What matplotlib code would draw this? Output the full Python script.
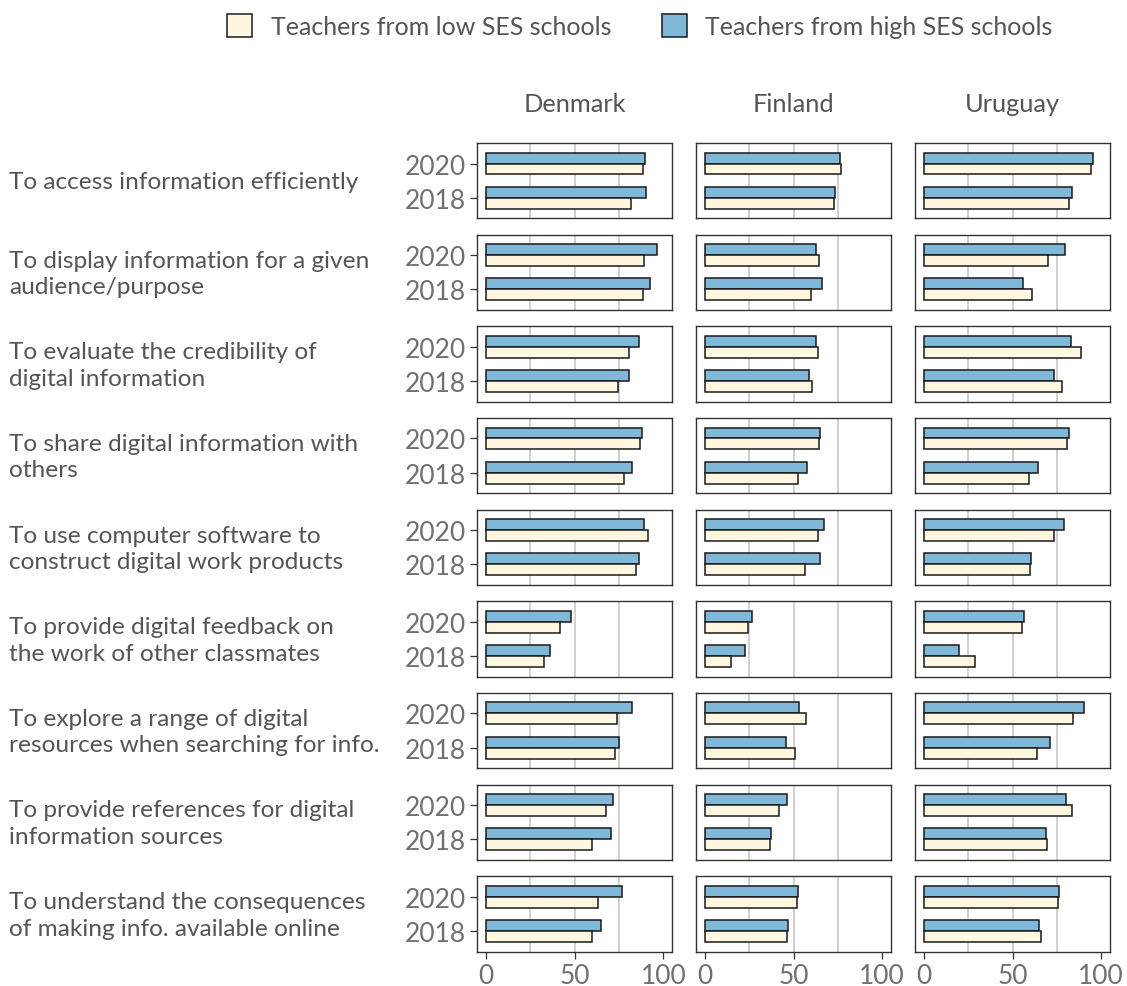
import numpy as np
import matplotlib
matplotlib.use("Agg")
from matplotlib import pyplot as plt
from matplotlib.patches import Patch

plt.rcParams["font.family"] = ["Lato", "DejaVu Sans"]

countries = ["Denmark", "Finland", "Uruguay"]
years = ["2018", "2020"]
skills = [
    "To access information efficiently",
    "To display information for a given\naudience/purpose",
    "To evaluate the credibility of\ndigital information",
    "To share digital information with\nothers",
    "To use computer software to\nconstruct digital work products",
    "To provide digital feedback on\nthe work of other classmates",
    "To explore a range of digital\nresources when searching for info.",
    "To provide references for digital\ninformation sources",
    "To understand the consequences\nof making info. available online",
]

# values per country: rows = skills, cols = (2018, 2020)
high_ses = {
    "Denmark": [[90.4, 89.8], [92.7, 96.6], [80.5, 86.1], [82.5, 88.0], [86.3, 89.1],
                [36.1, 48.1], [75.2, 82.0], [70.7, 71.8], [64.7, 76.9]],
    "Finland": [[73.5, 76.3], [66.0, 62.6], [58.6, 62.6], [57.5, 65.2], [65.2, 67.1],
                [22.6, 26.5], [45.7, 53.2], [37.4, 46.4], [47.0, 52.3]],
    "Uruguay": [[83.5, 95.5], [56.0, 79.7], [73.3, 83.1], [64.3, 82.1], [60.3, 79.3],
                [19.9, 56.6], [71.1, 90.4], [69.0, 80.3], [64.7, 76.1]],
}
low_ses = {
    "Denmark": [[81.6, 88.5], [88.7, 88.9], [74.1, 80.5], [77.6, 87.0], [84.6, 91.4],
                [32.9, 41.9], [72.4, 73.9], [59.6, 67.5], [59.6, 63.3]],
    "Finland": [[72.7, 76.9], [59.8, 64.3], [60.3, 63.7], [52.8, 64.5], [56.4, 64.1],
                [15.0, 24.1], [50.9, 57.0], [37.0, 41.9], [46.2, 52.1]],
    "Uruguay": [[82.1, 94.2], [60.9, 69.9], [78.2, 88.5], [59.2, 80.8], [60.0, 73.3],
                [29.1, 55.3], [64.1, 84.0], [69.7, 83.5], [65.8, 75.8]],
}

LOW_COLOR = "#FFF7E0"
HIGH_COLOR = "#80B8D9"
TEXT_COLOR = "#555555"
TICK_COLOR = "#707070"

W, H = 1127, 987
fig = plt.figure(figsize=(W / 100, H / 100), dpi=100)

# panel grid in pixels
col_x = [477.3, 696.0, 915.0]
panel_w = 195.0
row_top0 = 144.0
row_pitch = 91.65
panel_h = 75.3
bar_h = 0.32

ypos = np.arange(1, len(years) + 1)

for r, skill in enumerate(skills):
    top = row_top0 + r * row_pitch
    for c, country in enumerate(countries):
        ax = fig.add_axes([col_x[c] / W, 1 - (top + panel_h) / H, panel_w / W, panel_h / H])
        hi = high_ses[country][r]
        lo = low_ses[country][r]
        ax.barh(ypos + bar_h / 2, hi, height=bar_h, color=HIGH_COLOR,
                edgecolor="#1a1a1a", linewidth=1.1, zorder=3)
        ax.barh(ypos - bar_h / 2, lo, height=bar_h, color=LOW_COLOR,
                edgecolor="#1a1a1a", linewidth=1.1, zorder=3)
        for g in (25, 50, 75):
            ax.axvline(g, color="#c4c4c4", linewidth=1.1, zorder=1)
        ax.set_xlim(-5, 105)
        ax.set_ylim(0.4, 2.6)
        for s in ax.spines.values():
            s.set_color("#333333")
            s.set_linewidth(1.0)
        ax.set_xticks([0, 50, 100])
        ax.tick_params(axis="both", length=5, width=0.9, color="#333333",
                       labelcolor=TICK_COLOR, labelsize=19, pad=3)
        if r < len(skills) - 1:
            ax.tick_params(axis="x", length=0, labelbottom=False)
        if c == 0:
            ax.set_yticks(ypos)
            ax.set_yticklabels(years)
        else:
            ax.set_yticks([])
        if r == 0:
            fig.text((col_x[c] + panel_w / 2) / W, 1 - 104 / H, country, ha="center",
                     va="center", fontsize=18.3, color=TEXT_COLOR)

    fig.text(9 / W, 1 - (top + panel_h / 2 + 1) / H, skill, ha="left", va="center",
             fontsize=17.6, color=TEXT_COLOR, linespacing=1.32)

handles = [
    Patch(facecolor=LOW_COLOR, edgecolor="#1a1a1a", linewidth=1.1, label="Teachers from low SES schools"),
    Patch(facecolor=HIGH_COLOR, edgecolor="#1a1a1a", linewidth=1.1, label="Teachers from high SES schools"),
]
leg = fig.legend(handles=handles, loc="center", bbox_to_anchor=(640 / W, 1 - 27 / H), ncol=2,
                 frameon=False, handlelength=1.0, handleheight=1.0, handletextpad=0.75,
                 columnspacing=2.0, prop={"size": 18})
for t in leg.get_texts():
    t.set_color(TEXT_COLOR)

fig.savefig("out.png", dpi=100)
